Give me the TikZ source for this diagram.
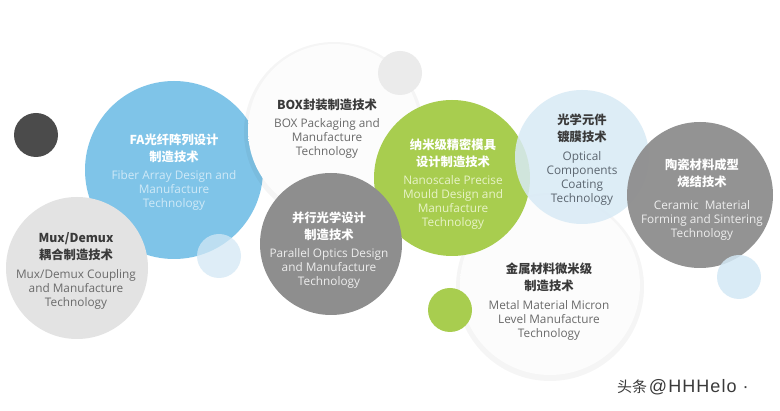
\documentclass[tikz,border=0pt]{standalone}
\usepackage{fontspec}
\setmainfont{Open Sans}
\newfontfamily\cjk{Noto Sans CJK SC}
\newfontfamily\wmfont{Liberation Sans}[LetterSpace=6]
\definecolor{cblue}{HTML}{7FC4E8}
\definecolor{clblue}{HTML}{D3E8F5}
\definecolor{coptic}{HTML}{D8EAF5}
\definecolor{cgreen}{HTML}{A8CD4F}
\definecolor{cgray}{HTML}{8E8E8E}
\definecolor{cdark}{HTML}{4B4B4B}
\definecolor{cmux}{HTML}{E3E3E3}
\definecolor{csgray}{HTML}{EBEBEB}
\definecolor{boxin}{HTML}{FCFCFC}
\definecolor{boxmid}{HTML}{F4F4F4}
\definecolor{boxedge}{HTML}{E2E2E2}
\definecolor{cntext}{HTML}{3A3A3A}
\definecolor{entext}{HTML}{6A6A6A}
\definecolor{bluetext}{HTML}{CFE9F7}
\definecolor{greentext}{HTML}{E8F3C8}
\definecolor{graytext}{HTML}{EDEDED}
\definecolor{optictext}{HTML}{5C6670}
\pgfdeclareradialshading{softdisc}{\pgfpoint{0bp}{0bp}}{color(0bp)=(boxin);color(28bp)=(boxin);color(44bp)=(boxmid);color(50bp)=(boxedge)}
\tikzset{
  disc/.style={circle, inner sep=0pt, draw=none},
  halo/.style={circle, inner sep=0pt, draw=none, fill=black, fill opacity=0.04},
  cnlab/.style={align=center, inner sep=0pt, font=\cjk\bfseries\fontsize{12.3}{17}\selectfont},
  enlab/.style={align=center, inner sep=0pt, font=\fontsize{11.8}{14}\selectfont},
}
\begin{document}
\begin{tikzpicture}[x=1pt,y=-1pt]
\fill[white] (0,0) rectangle (780,411);
\useasboundingbox (0,0) rectangle (780,411);
% back circles
\node[halo, minimum size=188pt] (metalhalo) at (550,287) {};
\node[disc, minimum size=180pt, shade, shading=softdisc] (metal) at (550,285) {};
\node[disc, minimum size=178pt, fill=cblue] (fa) at (174,170) {};
\node[halo, minimum size=180pt] (boxhalo) at (334,132) {};
\node[disc, minimum size=172pt, shade, shading=softdisc] (box) at (334,130) {};
\node[disc, minimum size=44pt, fill=csgray] (sgray) at (400,73) {};
\node[disc, minimum size=142pt, fill=cmux] (mux) at (77,268) {};
\node[disc, minimum size=44pt, fill=clblue, fill opacity=0.75] (sblue1) at (219,256) {};
\node[disc, minimum size=156pt, fill=cgreen] (nano) at (452,178) {};
\node[disc, minimum size=142pt, fill=cgray] (par) at (331,244) {};
\node[disc, minimum size=134pt, fill=coptic, fill opacity=0.85] (optic) at (582,157) {};
\node[disc, minimum size=146pt, fill=cgray, fill opacity=0.95] (cer) at (700,195) {};
\node[disc, minimum size=44pt, fill=clblue, fill opacity=0.85] (sblue2) at (739,277) {};
\node[disc, minimum size=44pt, fill=cgreen] (sgreen) at (450,310) {};
\node[disc, minimum size=44pt, fill=cdark] (sdark) at (36,135) {};
% texts
\node[cnlab, text=white] (facn) at (174,148.5) {FA光纤阵列设计\\制造技术};
\node[enlab, text=bluetext] (faen) at (174,190.5) {Fiber Array Design and\\Manufacture\\Technology};
\node[cnlab, text=cntext] (boxcn) at (327,105) {BOX封装制造技术};
\node[enlab, text=entext] (boxen) at (327,138) {BOX Packaging and\\Manufacture\\Technology};
\node[cnlab, text=cntext] (muxcn) at (76,247) {Mux/Demux\\耦合制造技术};
\node[enlab, text=entext] (muxen) at (76,289) {Mux/Demux Coupling\\and Manufacture\\Technology};
\node[cnlab, text=white] (parcn) at (329,226) {并行光学设计\\制造技术};
\node[enlab, text=graytext] (paren) at (329,268.5) {Parallel Optics Design\\and Manufacture\\Technology};
\node[cnlab, text=white] (nanocn) at (453,153) {纳米级精密模具\\设计制造技术};
\node[enlab, text=greentext] (nanoen) at (453,202.5) {Nanoscale Precise\\Mould Design and\\Manufacture\\Technology};
\node[cnlab, text=cntext] (opticcn) at (582,128.5) {光学元件\\镀膜技术};
\node[enlab, text=optictext] (opticen) at (582,178) {Optical\\Components\\Coating\\Technology};
\node[cnlab, text=white] (cercn) at (702,173) {陶瓷材料成型\\烧结技术};
\node[enlab, text=graytext] (ceren) at (702,220) {Ceramic~ Material\\Forming and Sintering\\Technology};
\node[cnlab, text=cntext] (metalcn) at (549,277) {金属材料微米级\\制造技术};
\node[enlab, text=entext] (metalen) at (549,320) {Metal Material Micron\\Level Manufacture\\Technology};
\node[inner sep=0pt, text=cntext] (wm) at (683,387) {{\cjk\fontsize{15}{16}\selectfont 头条}\,{\wmfont\fontsize{18}{18}\selectfont @HHHelo ·}};
\end{tikzpicture}
\end{document}
